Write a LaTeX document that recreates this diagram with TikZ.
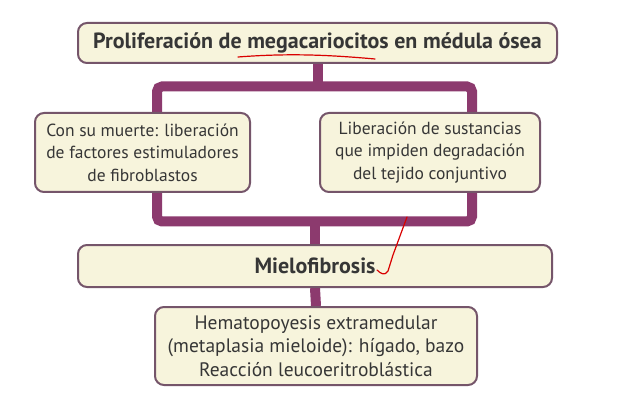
\documentclass[tikz,border=0pt]{standalone}
\usepackage{fontspec}
\setmainfont{PT Sans}
\usepackage{xcolor}
\usetikzlibrary{backgrounds}
\definecolor{linkpurple}{HTML}{8C3A6E}
\definecolor{boxedge}{HTML}{75556A}
\definecolor{boxfill}{HTML}{F7F4DC}
\definecolor{inktext}{HTML}{363636}
\tikzset{
  stepbox/.style={draw=boxedge,line width=2pt,fill=boxfill,rounded corners=9pt,
    text=inktext,align=center,inner sep=0pt,font=\fontsize{17.5}{22.5}\selectfont},
  headbox/.style={stepbox,font=\fontsize{22}{24}\selectfont\bfseries},
  link/.style={draw=linkpurple,line width=10pt},
  pen/.style={draw=red!85!black,line width=1.2pt,line cap=round,line join=round}
}
\begin{document}
\begin{tikzpicture}[x=1pt,y=-1pt]
\useasboundingbox (0,0) rectangle (619,409);
% boxes
\node[headbox,minimum width=479pt,minimum height=40pt] (top) at (317.5,43)
  {Proliferación de megacariocitos en médula ósea};
\node[stepbox,minimum width=215pt,minimum height=79pt] (left) at (142.5,152.5)
  {Con su muerte: liberación\\de factores estimuladores\\de fibroblastos};
\node[stepbox,minimum width=220pt,minimum height=79pt] (right) at (430,152.5)
  {Liberación de sustancias\\que impiden degradación\\del tejido conjuntivo};
\node[headbox,minimum width=474pt,minimum height=42pt] (mielo) at (315,266)
  {Mielofibrosis};
\node[stepbox,font=\fontsize{19.5}{23.5}\selectfont,minimum width=322pt,minimum height=78pt] (hema) at (316,346)
  {Hematopoyesis extramedular\\(metaplasia mieloide): hígado, bazo\\Reacción leucoeritroblástica};
% connectors behind the boxes
\coordinate (barT) at (157,86.5);
\coordinate (barB) at (472,221.5);
\begin{scope}[on background layer]
\fill[white] (0,0) rectangle (619,409);
\draw[link,rounded corners=5pt] (barT) rectangle (barB);
\draw[link] (top.south) -- (top.south|-barT);
\draw[link] (mielo.north|-barB) -- (mielo.north);
\draw[link] (mielo.south) -- (hema.north);
\end{scope}
% red pen marks
\draw[pen] (238,57) .. controls (290,53) and (330,55) .. (375,59);
\draw[pen] (407,217) -- (393,255) -- (388,271) .. controls (385,276) and (381,274) .. (377,270);
\end{tikzpicture}
\end{document}
